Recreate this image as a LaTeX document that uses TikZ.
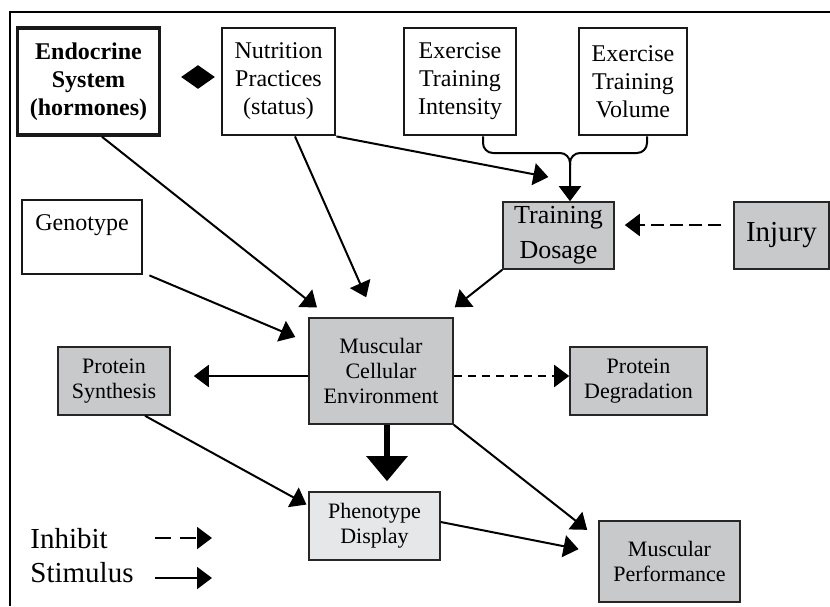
\documentclass[tikz,border=0pt]{standalone}
\usepackage{fontspec}
\setmainfont{Liberation Serif}
\usetikzlibrary{shapes.geometric, arrows.meta}
\definecolor{boxgray}{RGB}{200,201,203}
\definecolor{phengray}{RGB}{230,231,232}
\tikzstyle{whitebox} = [rectangle, draw=black!90, line width=1.4pt, fill=white, align=center, inner sep=0pt, font=\fontsize{12}{14}\selectfont]
\tikzstyle{graybox} = [rectangle, draw=black!85, line width=0.8pt, fill=boxgray, align=center, inner sep=0pt, font=\fontsize{11}{12.5}\selectfont]
\tikzstyle{arrow} = [line width=1pt, -{Triangle[length=7.5pt,width=11pt]}]
\tikzstyle{inhibit} = [arrow, dash pattern=on 6.5pt off 3pt]
\tikzstyle{bigarrow} = [line width=3pt, -{Triangle[length=12.5pt,width=20pt]}]

\begin{document}
\begin{tikzpicture}[x=0.5pt, y=-0.5pt]

\useasboundingbox (0,0) rectangle (830,606);
\draw [line width=0.8pt] (830,12) -- (10,12) -- (10,606);

\node (endo) [whitebox, line width=1.8pt, font=\bfseries\fontsize{12}{14}\selectfont, minimum width=71pt, minimum height=53.5pt] at (88.5,81.5) {Endocrine\\System\\(hormones)};

\node (link) [diamond, fill=black, inner sep=0pt, minimum width=17pt, minimum height=12pt] at (198,77) {};

\node (nutr) [whitebox, minimum width=56.5pt, minimum height=53.5pt] at (278.5,81.5) {Nutrition\\Practices\\(status)};

\node (inten) [whitebox, minimum width=56pt, minimum height=53.5pt] at (460,81.5) {Exercise\\Training\\Intensity};

\node (volu) [whitebox, minimum width=54pt, minimum height=53.5pt] at (633,81.5) {Exercise\\Training\\Volume};

\node (geno) [whitebox, minimum width=60pt, minimum height=37pt] at (82,237) {Genotype\\\mbox{}};

\node (dose) [graybox, font=\fontsize{13}{17.5}\selectfont, minimum width=55.5pt, minimum height=33.5pt] at (558.5,235.5) {Training\\Dosage};

\node (injury) [graybox, font=\fontsize{14.5}{17}\selectfont, minimum width=47.5pt, minimum height=33.5pt] at (781.5,235.5) {Injury};

\node (mce) [graybox, minimum width=72pt, minimum height=53pt] at (381,371) {Muscular\\Cellular\\Environment};

\node (psyn) [graybox, minimum width=56pt, minimum height=34pt] at (114,381) {Protein\\Synthesis};

\node (pdeg) [graybox, minimum width=68.5pt, minimum height=34pt] at (638.5,381) {Protein\\Degradation};

\node (phen) [graybox, fill=phengray, minimum width=65.5pt, minimum height=34pt] at (374.5,526) {Phenotype\\Display};

\node (perf) [graybox, minimum width=70.5pt, minimum height=40.5pt] at (669.5,561.5) {Muscular\\Performance};

\node (inhtext) [anchor=base west, inner sep=0pt, font=\fontsize{14.5}{17}\selectfont] at (30,548) {Inhibit};
\node (stimtext) [anchor=base west, inner sep=0pt, font=\fontsize{14.5}{17}\selectfont] at (30,582) {Stimulus};

\coordinate (inhA) at (155,538);
\coordinate (inhB) at (212,538);
\coordinate (stimA) at (155,578);
\coordinate (stimB) at (212,578);
\coordinate (fork) at (570,153);

\draw [arrow, shorten >=7.8pt] ([xshift=6.75pt]endo.south) -- ([xshift=10.5pt]mce.north west);
\draw [arrow, shorten >=10.9pt] ([xshift=8.25pt]nutr.south) -- ([xshift=-3pt]mce.north);
\draw [arrow, shorten >=11pt] (nutr.south east) -- ([xshift=5.75pt, yshift=10pt]dose.north);
\draw [arrow, rounded corners=5pt] ([xshift=11.5pt]inten.south) |- (fork) -- (fork |- dose.north);
\draw [line width=1pt, rounded corners=5pt] ([xshift=7pt]volu.south) |- (fork) -- ++(0,12);
\draw [inhibit, shorten <=6pt, shorten >=5pt] ([yshift=5.25pt]injury.west) -- ([yshift=5.25pt]dose.east);
\draw [arrow, shorten >=8pt] (dose.south west) -- ([xshift=-5.8pt]mce.north east);
\draw [arrow, shorten >=7pt] ([xshift=3pt]geno.south east) -- ([yshift=14.25pt]mce.west);
\draw [arrow, shorten >=11.5pt] ([yshift=-2.5pt]mce.west) -- ([yshift=2.5pt]psyn.east);
\draw [arrow, dash pattern=on 4pt off 3pt] ([yshift=-2.5pt]mce.east) -- ([yshift=2.5pt]pdeg.west);
\draw [bigarrow, shorten >=5pt] ([xshift=3pt]mce.south) -- ([xshift=6.25pt]phen.north);
\draw [arrow, shorten >=7pt] (mce.south east) -- ([yshift=11.5pt]perf.west);
\draw [arrow, shorten >=1pt] ([xshift=15.5pt]psyn.south) -- ([yshift=10.25pt]phen.west);
\draw [arrow, shorten >=10pt] ([yshift=2pt]phen.east) -- ([yshift=4.25pt]perf.west);
\draw [arrow, dash pattern=on 8pt off 4.5pt] (inhA) -- (inhB);
\draw [arrow] (stimA) -- (stimB);

\end{tikzpicture}
\end{document}
